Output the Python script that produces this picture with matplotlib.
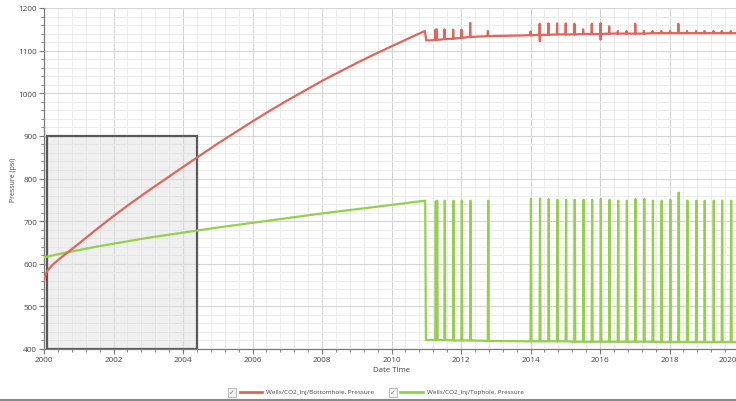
#!/usr/bin/env python3
# -*- coding: utf-8 -*-

import matplotlib
matplotlib.use('Agg')
import matplotlib.pyplot as plt
from matplotlib.patches import Rectangle
from matplotlib.lines import Line2D
from matplotlib.ticker import MultipleLocator
from matplotlib.transforms import ScaledTranslation

# bottomhole pressure before shut-in cycles (year, psi)
bh_years = [2000.0, 2000.03, 2000.1, 2000.25, 2000.5, 2000.75, 2001.0, 2001.5, 2002.0,
            2002.5, 2003.0, 2003.5, 2004.0, 2004.4, 2005.0, 2005.5, 2006.0, 2006.5, 2007.0,
            2007.5, 2008.0, 2008.5, 2009.0, 2009.5, 2010.0, 2010.5, 2010.96,
            2011.0, 2011.1]
bh_psi = [560, 572, 584, 598, 615, 631, 647, 680, 712,
          742, 771, 799, 827, 849, 882, 908, 934, 959, 983,
          1006, 1029, 1050, 1071, 1091, 1110, 1129, 1146,
          1124, 1124]

# tophole pressure before shut-in cycles
th_years = [2000.0, 2000.5, 2001.0, 2001.5, 2002.0, 2003.0, 2004.0, 2005.0, 2006.0, 2007.0,
            2008.0, 2009.0, 2010.0, 2010.97, 2010.99]
th_psi = [615, 624, 632, 640, 647, 661, 673, 685, 696, 707,
          718, 728, 738, 748, 421]

# injection events (quarterly)
events = [2011.26, 2011.30, 2011.52, 2011.77, 2012.01, 2012.26, 2012.77,
          2014.00, 2014.26, 2014.51, 2014.76, 2015.01, 2015.26, 2015.51, 2015.76,
          2016.01, 2016.26, 2016.51, 2016.76, 2017.01, 2017.26, 2017.51, 2017.76,
          2018.01, 2018.25, 2018.50, 2018.76, 2019.00, 2019.26, 2019.50, 2019.76]

bh_base = [1125, 1125, 1127, 1128, 1130, 1132, 1134,
           1136, 1137, 1137, 1138, 1138, 1138, 1139, 1139,
           1139, 1140, 1140, 1140, 1140, 1140, 1141, 1141,
           1141, 1141, 1141, 1141, 1141, 1141, 1141, 1141]
bh_top = [1149, 1150, 1150, 1149, 1149, 1165, 1146,
          1145, 1163, 1164, 1164, 1164, 1163, 1150, 1163,
          1164, 1157, 1146, 1146, 1163, 1146, 1146, 1146,
          1146, 1163, 1146, 1146, 1146, 1146, 1146, 1146]
bh_low = [1125, 1125, 1127, 1128, 1130, 1132, 1134,
          1136, 1122, 1137, 1138, 1138, 1138, 1139, 1139,
          1126, 1140, 1140, 1140, 1140, 1140, 1141, 1141,
          1141, 1141, 1141, 1141, 1141, 1141, 1141, 1141]

th_base = [421, 421, 421, 420, 420, 420, 419,
           418, 418, 418, 418, 418, 417, 417, 417,
           417, 417, 417, 417, 417, 417, 417, 416,
           416, 416, 416, 416, 416, 416, 416, 416]
th_top = [746, 748, 748, 748, 748, 748, 748,
          752, 753, 752, 750, 750, 750, 750, 750,
          752, 750, 748, 748, 752, 752, 748, 748,
          750, 767, 748, 748, 748, 748, 748, 748]

end_year = 2020.0
bh_end = 1141
th_end = 416

legend_labels = ['Wells/CO2_Inj/Bottomhole, Pressure', 'Wells/CO2_Inj/Tophole, Pressure']

RED = '#e0655a'
GREEN = '#94d04c'
FONT = ['Open Sans', 'DejaVu Sans']


def with_spikes(x0, y0, ev, base, top, low, last_x, last_y, dt=0.012):
    xs, ys = list(x0), list(y0)
    for t, b, hi, lo in zip(ev, base, top, low):
        xs += [t, t + dt, t + 2 * dt, t + 3 * dt]
        ys += [b, hi, lo, b]
    xs.append(last_x)
    ys.append(last_y)
    return xs, ys


def main():
    plt.rcParams['font.family'] = FONT
    fig = plt.figure(figsize=(7.36, 4.02), dpi=100)
    ax = fig.add_axes([44 / 736, 52 / 402, 695 / 736, 341 / 402])

    ax.set_xlim(2000, 2020)
    ax.set_ylim(400, 1200)
    ax.xaxis.set_major_locator(MultipleLocator(2))
    ax.xaxis.set_minor_locator(MultipleLocator(0.4))
    ax.yaxis.set_major_locator(MultipleLocator(100))
    ax.yaxis.set_minor_locator(MultipleLocator(20))
    ax.grid(which='major', color='#d4d4d4', lw=0.8, zorder=0)
    ax.grid(which='minor', color='#ececec', lw=0.7, zorder=0)
    ax.set_axisbelow(True)

    for s in ['top', 'right']:
        ax.spines[s].set_visible(False)
    for s in ['left', 'bottom']:
        ax.spines[s].set_color('#7a7a7a')
        ax.spines[s].set_linewidth(0.9)
    ax.tick_params(which='major', length=3.5, width=0.8, color='#7a7a7a',
                   labelsize=5.9, labelcolor='#444444', pad=1.5)
    ax.tick_params(which='minor', length=2, width=0.6, color='#7a7a7a')
    ax.set_xticks(range(2000, 2021, 2))
    ax.set_xticklabels([str(y) for y in range(2000, 2021, 2)])
    last = ax.get_xticklabels()[-1]
    last.set_horizontalalignment('right')
    last.set_transform(last.get_transform() + ScaledTranslation(-0.02, 0, fig.dpi_scale_trans))

    # selection box: translucent fill, opaque dark edge
    ax.add_patch(Rectangle((2000.09, 400), 4.31, 500, facecolor=(0.88, 0.88, 0.88, 0.5),
                           edgecolor='#595959', lw=1.6, zorder=1.5))

    bx, by = with_spikes(bh_years, bh_psi, events, bh_base, bh_top, bh_low, end_year, bh_end,
                         dt=0.004)
    tx, ty = with_spikes(th_years, th_psi, events, th_base, th_top, th_base, end_year, th_end,
                         dt=0.014)
    ax.plot(tx, ty, color=GREEN, lw=1.6, zorder=3, solid_joinstyle='round')
    ax.plot(bx, by, color=RED, lw=1.6, zorder=4, solid_joinstyle='round')

    ax.set_xlabel('Date Time', fontsize=5.7, color='#444444', labelpad=2)
    ax.set_ylabel('Pressure (psi)', fontsize=5, color='#444444', labelpad=1)

    # legend row with checkboxes
    ly = 1 - 393 / 402
    for bx0, lx0, lx1, tx0, col, lab in [(228, 240, 262, 266, RED, legend_labels[0]),
                                         (389, 400, 423, 427, GREEN, legend_labels[1])]:
        fig.add_artist(Rectangle((bx0 / 736, ly - 4.5 / 402), 8 / 736, 9 / 402,
                                 facecolor='#f4f4f4', edgecolor='#b0b0b0', lw=0.6))
        fig.text((bx0 + 4) / 736, ly, '\u2713', fontsize=5, color='#707070',
                 ha='center', va='center', family=['DejaVu Sans'])
        fig.add_artist(Line2D([lx0 / 736, lx1 / 736], [ly, ly], color=col, lw=2))
        fig.text(tx0 / 736, ly, lab, fontsize=4.6, color='#444444', va='center')

    fig.add_artist(Line2D([0, 1], [1 - 400.5 / 402] * 2, color='#8a8a8a', lw=1.5))

    fig.savefig('out.png', dpi=100)


if __name__ == '__main__':
    main()
